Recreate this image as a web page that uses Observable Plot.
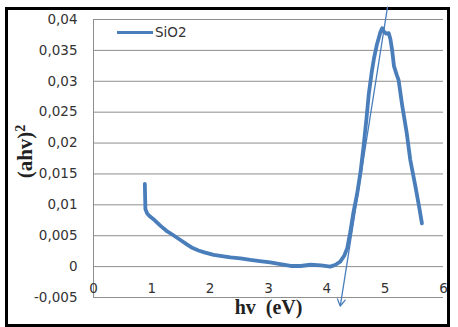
<!DOCTYPE html>
<html>
<head>
<meta charset="utf-8">
<script src="https://cdn.jsdelivr.net/npm/d3@7"></script>
<script src="https://cdn.jsdelivr.net/npm/@observablehq/plot@0.6"></script>
<style>
  html, body { margin: 0; padding: 0; background: #fff; }
  #wrap { position: relative; width: 458px; height: 327px; overflow: hidden; }
  #frame { position: absolute; left: 5px; top: 7px; width: 445px; height: 320px; border: 3px solid #000; box-sizing: border-box; }
  #chart { position: absolute; left: 0; top: 0; }
  #legend { position: absolute; left: 117px; top: 24px; font-family: "DejaVu Sans"; font-size: 13.5px; color: #333; display: flex; align-items: center; }
  #legend span.key { display: inline-block; width: 36px; height: 3px; background: #4a7ebb; margin-right: 2px; }
</style>
</head>
<body>
<div id="wrap">
  <div id="frame"></div>
  <div id="chart"></div>
  <div id="legend"><span class="key"></span><span>SiO2</span></div>
</div>
<script>
// Data
const seriesName = "SiO2";
const hv = [0.88,0.885,0.89,0.92,0.97,1.05,1.15,1.25,1.35,1.49,1.6,1.7,1.8,1.9,2.06,2.2,2.35,2.52,2.69,2.85,3.03,3.2,3.38,3.55,3.72,3.9,4.06,4.15,4.23,4.3,4.35,4.4,4.46,4.52,4.58,4.63,4.68,4.72,4.77,4.81,4.86,4.92,4.95,4.98,5.02,5.06,5.09,5.12,5.15,5.2,5.23,5.29,5.37,5.43,5.52,5.58,5.63];
const ahv2 = [0.0134,0.0112,0.0093,0.0086,0.0081,0.0075,0.0066,0.0058,0.0052,0.0043,0.0036,0.0030,0.0026,0.0023,0.0019,0.0017,0.0015,0.00135,0.0011,0.0009,0.0007,0.0004,0.0001,0.0001,0.0003,0.0002,0.0,0.0003,0.0008,0.0018,0.0030,0.0055,0.0090,0.0118,0.0155,0.0195,0.0240,0.0280,0.0315,0.0338,0.0360,0.0380,0.0386,0.0380,0.0377,0.0378,0.0368,0.0350,0.0325,0.0310,0.0302,0.0262,0.0216,0.0173,0.0129,0.0098,0.0070];
const tangentX = [5.04, 4.23];
const tangentY = [0.042, -0.0064];
const xTicks = [0, 1, 2, 3, 4, 5, 6];
const xTickLabels = ["0", "1", "2", "3", "4", "5", "6"];
const yTicks = [-0.005, 0, 0.005, 0.01, 0.015, 0.02, 0.025, 0.03, 0.035, 0.04];
const yTickLabels = ["-0,005", "0", "0,005", "0,01", "0,015", "0,02", "0,025", "0,03", "0,035", "0,04"];
const xTitle = "hv\u00a0\u00a0(eV)";
const yTitleBase = "(ahv)";
const yTitleSup = "2";

const curve = hv.map((x, i) => ({x, y: ahv2[i]}));
const tangent = [{x1: tangentX[0], y1: tangentY[0], x2: tangentX[1], y2: tangentY[1]}];
const blue = "#4a7ebb";

const chart = Plot.plot({
  width: 458,
  height: 327,
  marginLeft: 93,
  marginRight: 15,
  marginTop: 19,
  marginBottom: 30,
  style: {fontFamily: "DejaVu Sans", fontSize: "13.5px", color: "#333", background: "transparent"},
  x: {domain: [0, 6]},
  y: {domain: [-0.005, 0.04]},
  marks: [
    Plot.ruleY(yTicks, {stroke: "#8e8e8e", strokeWidth: 1}),
    Plot.ruleX([0], {stroke: "#8e8e8e", strokeWidth: 1}),
    Plot.axisY({ticks: yTicks, tickSize: 0, tickPadding: 16, tickFormat: d => yTickLabels[yTicks.indexOf(d)], label: null}),
    Plot.axisX({ticks: xTicks, tickSize: 0, tickPadding: 3, dy: -17, tickFormat: d => xTickLabels[xTicks.indexOf(d)], label: null}),
    Plot.line(curve, {x: "x", y: "y", stroke: blue, strokeWidth: 3.8, strokeLinejoin: "round", strokeLinecap: "round"}),
    Plot.arrow(tangent, {x1: "x1", y1: "y1", x2: "x2", y2: "y2", stroke: blue, strokeWidth: 1.3, headLength: 9}),
    Plot.text([xTitle], {frameAnchor: "bottom", dy: 16, text: d => d, fontFamily: "Liberation Serif", fontWeight: "bold", fontSize: 20, fill: "#222"}),
    Plot.text([yTitleBase], {frameAnchor: "left", textAnchor: "middle", dx: -68, dy: -7, rotate: -90, text: d => d, fontFamily: "Liberation Serif", fontWeight: "bold", fontSize: 21, fill: "#222", className: "ytitle"})
  ]
});
// add the superscript as a real text span
d3.select(chart).selectAll(".ytitle text").each(function() {
  const t = d3.select(this);
  t.append("tspan").attr("font-size", 14).attr("dy", "-0.55em").text(yTitleSup);
});
document.getElementById("chart").appendChild(chart);
</script>
</body>
</html>
